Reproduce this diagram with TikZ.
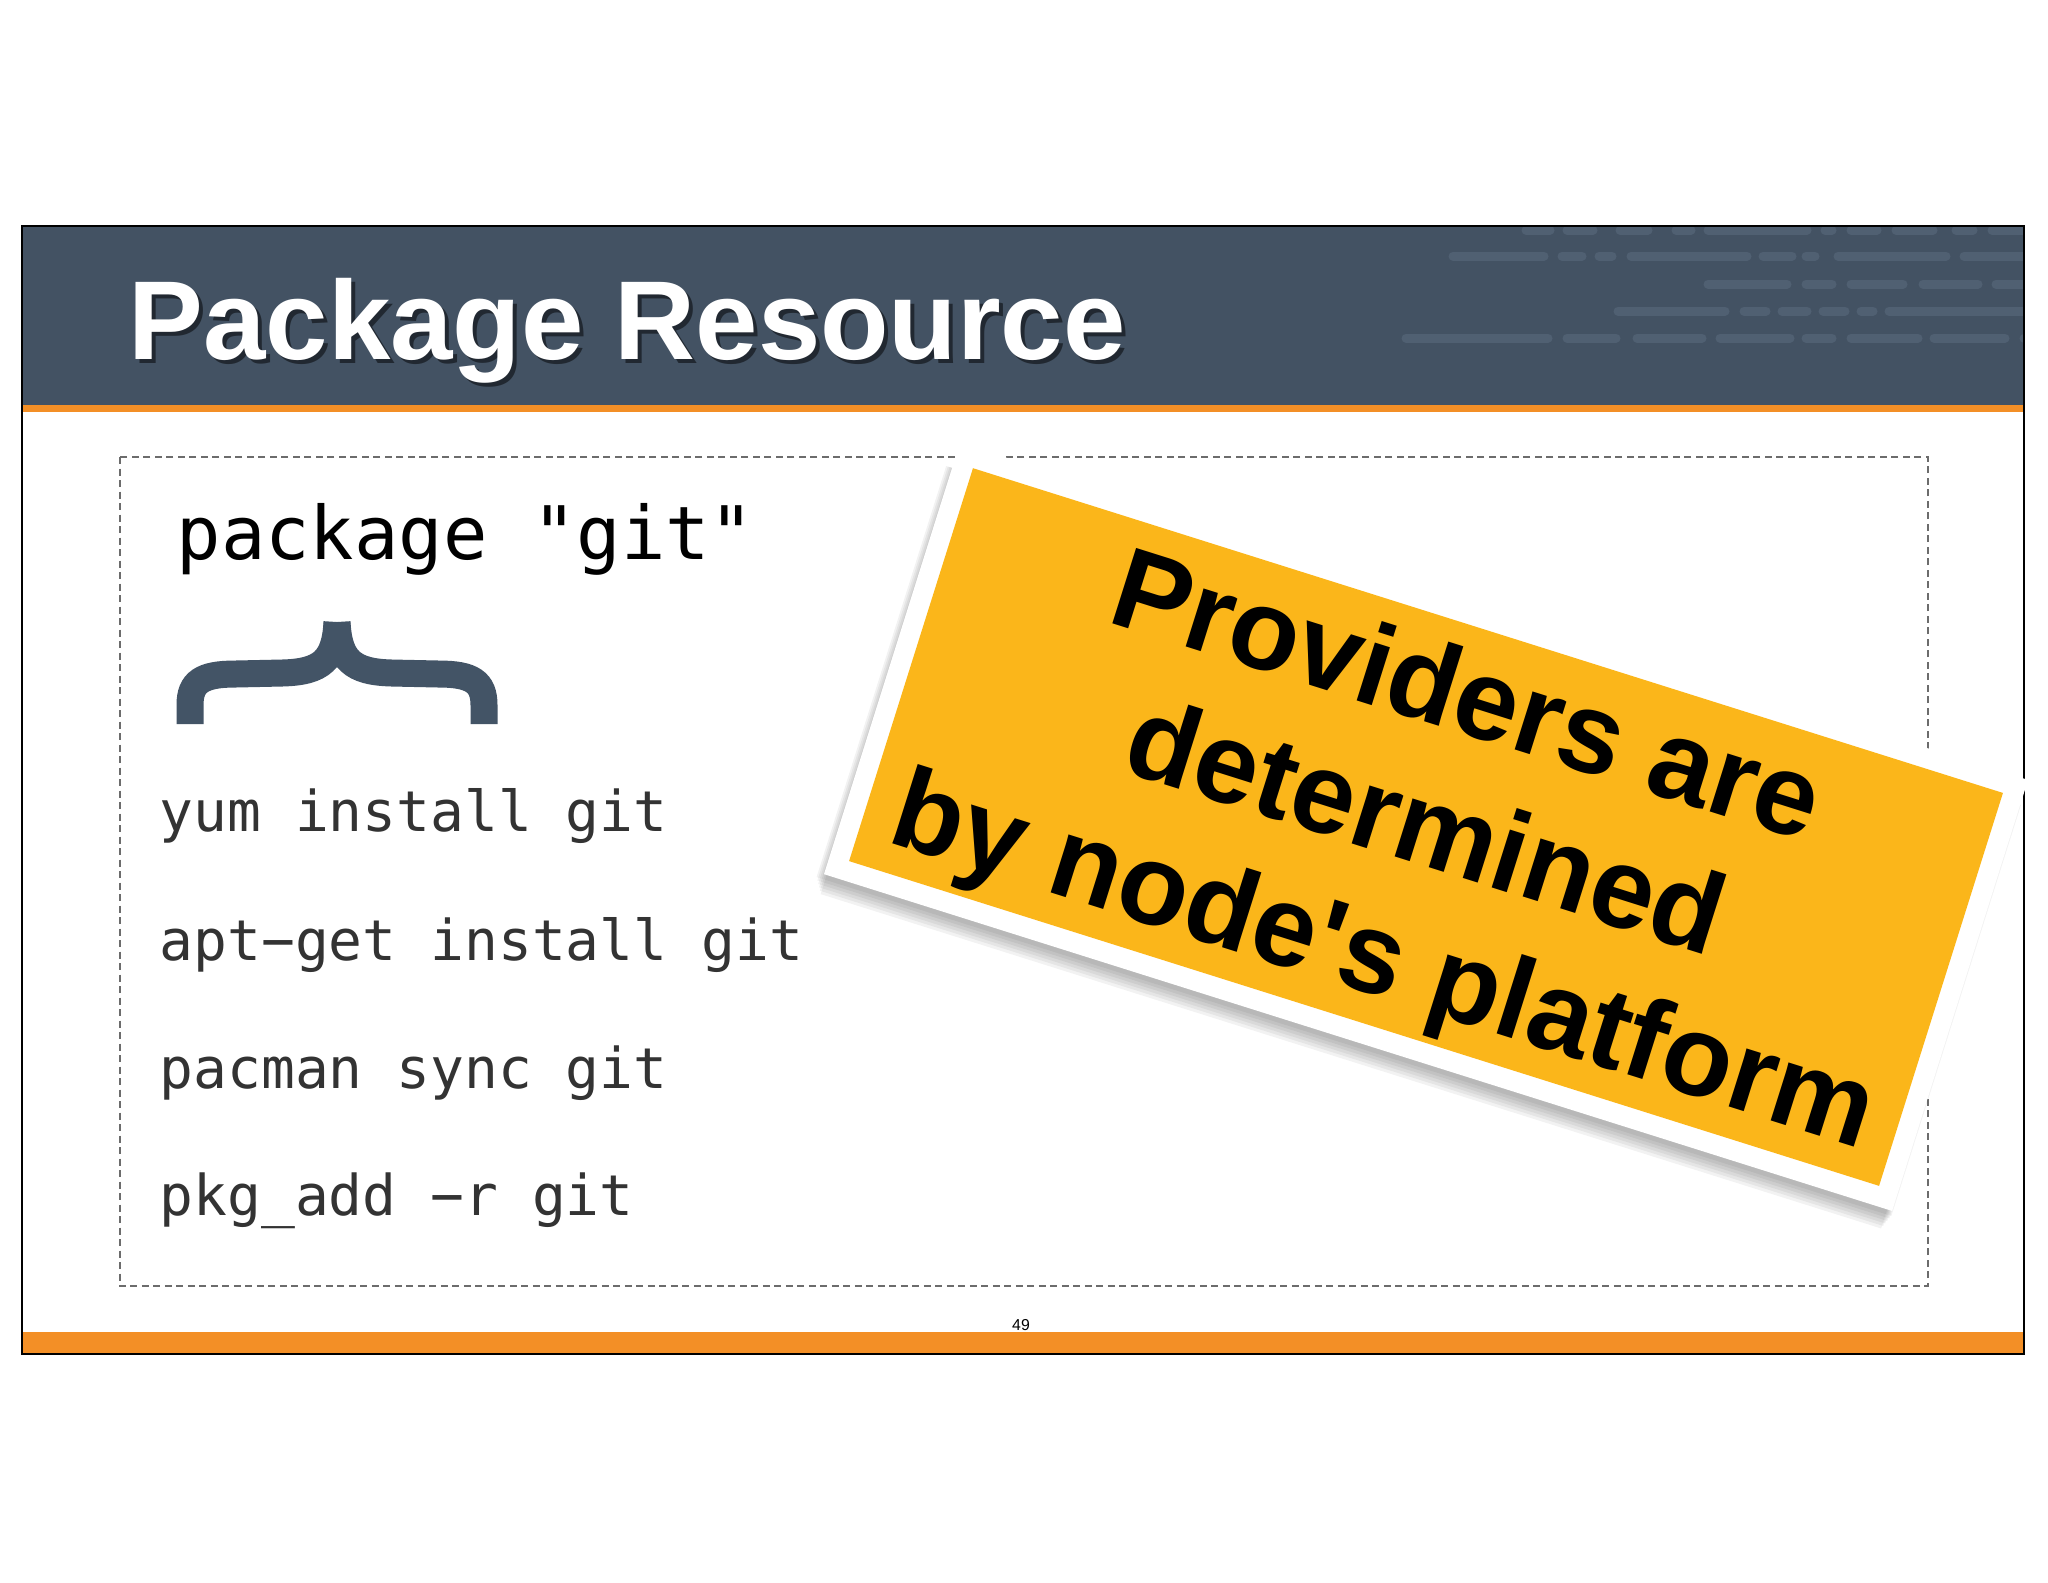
\documentclass[tikz,border=0pt]{standalone}
\usepackage{fontspec}
\setmainfont{Liberation Sans}
\setmonofont{DejaVu Sans Mono}
\usepackage{xcolor}
\usepackage{tikz}
\usetikzlibrary{
	calc,
	positioning
}
\definecolor{SlateBar}{RGB}{67,82,99}
\definecolor{DecoBar}{RGB}{80,96,114}
\definecolor{OrangeLine}{RGB}{243,143,38}
\definecolor{BraceBlue}{RGB}{67,84,102}
\definecolor{CmdGray}{RGB}{51,51,51}
\definecolor{StickerYellow}{RGB}{251,182,26}
\newcommand{\cmdminus}{\symbol{"2212}}

\begin{document}
\begin{tikzpicture}[x=0.1mm, y=-0.1mm,
		titletext/.style={font=\fontsize{31.9}{38}\selectfont\bfseries, inner sep=0pt, anchor=base west},
		codebig/.style={font=\ttfamily\fontsize{21}{25}\selectfont, inner sep=0pt, anchor=base west},
		codeline/.style={font=\ttfamily\fontsize{16}{19}\selectfont, text=CmdGray, inner sep=0pt, anchor=base west},
		stickertext/.style={font=\fontsize{32.7}{39}\selectfont\bfseries, inner sep=0pt, anchor=base, transform shape},
		deco/.style={draw=DecoBar, line width=0.9mm, line cap=round},
		dashbox/.style={draw=gray!85!black, line width=0.2mm, dash pattern=on 0.7mm off 0.45mm}]
		
		% 页面大小
		\fill[white] (0,0) rectangle (2048,1582);
		\useasboundingbox (0,0) rectangle (2048,1582);
		
		% 标题栏与底栏
		\fill[SlateBar] (22,226) rectangle (2024,405);
		\fill[OrangeLine] (22,405) rectangle (2024,412);
		\fill[OrangeLine] (22,1332) rectangle (2024,1354);
		
		% 标题栏右上角的装饰条
		\begin{scope}
			\clip (22,226) rectangle (2024,405);
			\foreach \a/\b in {1521/1555,1562/1598,1615/1653,1671/1696,1703/1812,1820/1837,1846/1882,1891/1938,1951/1978,1987/2040}
				\draw[deco] (\a+5,230) -- (\b-5,230);
			\foreach \a/\b in {1448/1549,1557/1587,1594/1617,1626/1752,1758/1797,1801/1820,1833/1951,1959/2040}
				\draw[deco] (\a+5,256) -- (\b-5,256);
			\foreach \a/\b in {1703/1792,1801/1837,1846/1908,1918/1983,1991/2040}
				\draw[deco] (\a+5,284) -- (\b-5,284);
			\foreach \a/\b in {1613/1730,1739/1771,1777/1812,1818/1850,1856/1878,1884/2040}
				\draw[deco] (\a+5,311) -- (\b-5,311);
			\foreach \a/\b in {1401/1553,1562/1621,1632/1707,1715/1795,1801/1837,1846/1923,1929/2010,2019/2040}
				\draw[deco] (\a+5,338) -- (\b-5,338);
		\end{scope}
		
		% 标题(带阴影)
		\node[titletext, text=black, opacity=0.5] (titleshade) at (132,363) {Package Resource};
		\node[titletext, text=white] (title) at (128,359) {Package Resource};
		
		% 虚线框
		\draw[dashbox] (120,457) rectangle (1928,1286);
		
		% 左侧代码
		\node[codebig] (pkg) at (176,559) {package "git"};
		\draw[BraceBlue, line width=2.7mm] (190,724) -- (190,705) .. controls (190,682) and (202,674) .. (235,674) -- (282,673) .. controls (322,672) and (335,660) .. (337,622);
		\draw[BraceBlue, line width=2.7mm] (484,724) -- (484,705) .. controls (484,682) and (472,674) .. (439,674) -- (392,673) .. controls (352,672) and (339,660) .. (337,622);
		\node[codeline] (yum) at (159,831) {yum install git};
		\node[codeline] (apt) at (159,960) {apt\cmdminus get install git};
		\node[codeline] (pacman) at (159,1088) {pacman sync git};
		\node[codeline] (pkgadd) at (159,1215) {pkg\_add \cmdminus r git};
		
		% 页码
		\node[font=\fontsize{4.5}{5}\selectfont, inner sep=0pt, anchor=base] (pagenum) at (1021,1330) {49};
		
		% 外框
		\draw[black, line width=0.2mm] (22,226) rectangle (2024,1354);
		
		% 斜贴的便签
		\begin{scope}[shift={(1426,827)}, rotate=-17.5]
			\foreach \s in {3,6,...,18}
				\fill[black, opacity=0.05] (-568+\s*0.6,-200) rectangle (562-\s*0.4,228+\s);
			\fill[white] (-560,-226) rectangle (560,226);
			\fill[StickerYellow] (-540,-206) rectangle (540,206);
			\node[stickertext] (provA) at (0,-100) {Providers are};
			\node[stickertext] (provB) at (0,38) {determined};
			\node[stickertext] (provC) at (0,176) {by node\textquotesingle s platform};
		\end{scope}
	\end{tikzpicture}
\end{document}
